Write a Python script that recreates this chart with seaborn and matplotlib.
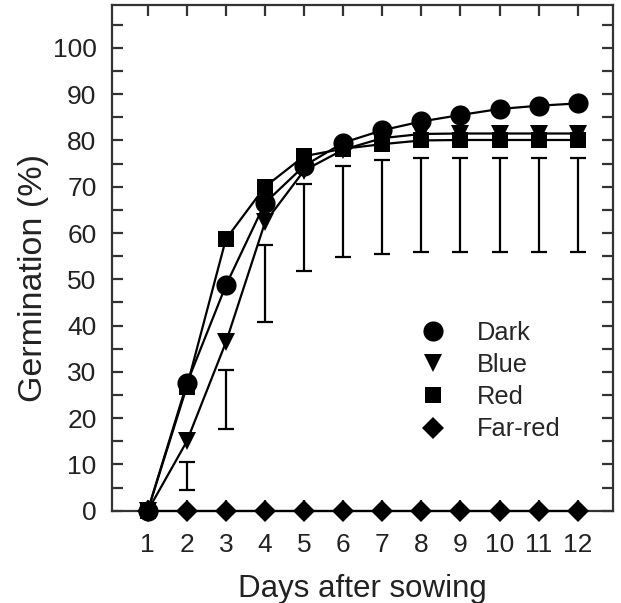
#!/usr/bin/env python

"""
Germination time course under different light treatments.
"""

import matplotlib

matplotlib.use("Agg")
import matplotlib.pyplot as plt
from matplotlib.lines import Line2D
import numpy as np
import pandas as pd
import seaborn as sns

days = list(range(1, 13))
dark = [0, 27.5, 48.7, 66.5, 74.5, 79.5, 82.2, 84.1, 85.5, 86.8, 87.5, 88.0]
blue = [0, 15.0, 36.4, 62.3, 73.5, 78.0, 80.5, 81.4, 81.5, 81.5, 81.5, 81.5]
red = [0, 26.8, 58.7, 70.0, 76.6, 78.2, 79.2, 80.0, 80.1, 80.1, 80.1, 80.1]
far_red = [0] * 12

# error bars (drawn on their own, as in the source figure)
err_days = list(range(2, 13))
err_low = [4.4, 17.6, 40.7, 51.7, 54.9, 55.4, 55.8, 55.8, 55.8, 55.8, 55.8]
err_high = [10.6, 30.5, 57.4, 70.6, 74.4, 75.8, 76.2, 76.3, 76.3, 76.3, 76.3]

treatments = ["Dark", "Blue", "Red", "Far-red"]
markers = {"Dark": "o", "Blue": "v", "Red": "s", "Far-red": "D"}
msizes = {"Dark": 14.5, "Blue": 12.5, "Red": 12, "Far-red": 11}


def main():
    sns.set_style("ticks")
    plt.rcParams["font.family"] = ["Liberation Sans", "DejaVu Sans"]

    df = pd.DataFrame(
        {
            "day": days * 4,
            "germ": dark + blue + red + far_red,
            "light": sum([[t] * len(days) for t in treatments], []),
        }
    )

    fig = plt.figure(figsize=(6.21, 6.03), dpi=100)
    ax = fig.add_axes([0.180, 0.153, 0.807, 0.839])

    lo = np.array(err_low)
    hi = np.array(err_high)
    mid = (lo + hi) / 2
    ax.errorbar(
        err_days, mid, yerr=(hi - lo) / 2, fmt="none", ecolor="black",
        elinewidth=1.6, capsize=6, capthick=1.6, zorder=2,
    )

    for i, t in enumerate(treatments):
        sub = df[df["light"] == t]
        sns.lineplot(
            data=sub, x="day", y="germ", ax=ax, color="black", linewidth=1.6,
            marker=markers[t], markersize=msizes[t], markeredgewidth=0,
            clip_on=False, zorder=3 + i,
        )

    ax.set_xlim(0.08, 12.9)
    ax.set_ylim(0, 109.3)
    ax.set_xticks(days)
    ax.set_yticks(np.arange(0, 101, 10))
    ax.set_yticks(np.arange(0, 110, 5), minor=True)
    ax.tick_params(axis="both", which="both", direction="in", top=True,
                   right=True, length=8, width=1.6, color="#333333")
    ax.tick_params(axis="y", which="major", labelsize=19, pad=11,
                   labelcolor="#222222")
    ax.tick_params(axis="x", which="major", labelsize=19, pad=16,
                   labelcolor="#222222")
    for s in ax.spines.values():
        s.set_linewidth(1.6)
        s.set_color("#333333")

    ax.set_xlabel("Days after sowing", fontsize=22.5, labelpad=12, color="#222222")
    ax.set_ylabel("Germination (%)", fontsize=24.5, color="#222222")
    ax.yaxis.set_label_coords(-0.126, 0.461)

    handles = [
        Line2D([], [], linestyle="none", marker=markers[t], color="black",
               markersize=msizes[t], markeredgewidth=0)
        for t in treatments
    ]
    ax.legend(handles, treatments, loc="upper left", bbox_to_anchor=(0.57, 0.395),
              frameon=False, fontsize=18.3, handletextpad=0.73, labelspacing=0.32,
              borderaxespad=0)

    fig.savefig("out.png", dpi=100)


if __name__ == "__main__":
    main()
